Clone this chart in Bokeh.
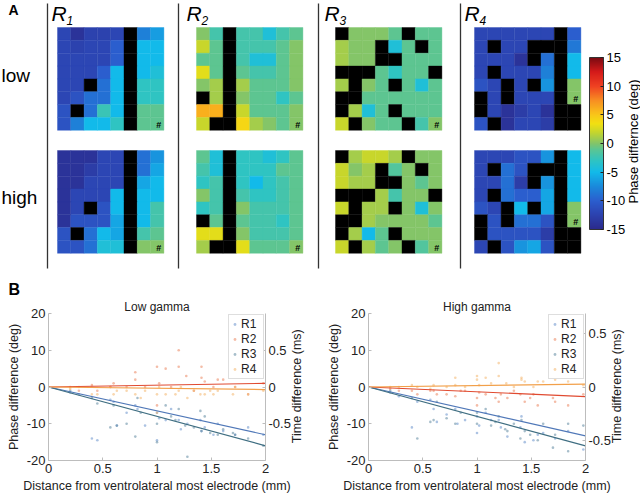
import numpy as np
from bokeh.plotting import figure
from bokeh.models import (ColumnDataSource, LinearColorMapper, ColorBar, FixedTicker,
                          Range1d, LinearAxis, Legend, LegendItem)
from bokeh.layouts import column, row
from bokeh.embed import file_html
from bokeh.resources import INLINE
from bokeh.core.properties import value

B = None  # black (excluded) electrode

# ---------------- Panel A data: phase difference (deg), 8x8 grids ----------------
r1_low = [
    [-12, -14, -12.5, -12.5, -12, B, -8, -6.5],
    [-12, -12.5, -12, -12, -10, B, -5, -5],
    [-12, -12, -12, -12, -10, B, -5, -5],
    [-12, -12, -12, -10, -5, B, -5, -4],
    [-12, -12, B, -9, -5, B, -3, -3],
    [-12, -11, -9, -9, -5, B, -3, -3],
    [-11, B, -9, -2.5, -5, B, -1, -1],
    [-11, -8, -5, -5, -3, B, -1, -1],
]
r1_high = [
    [-14, -14, -14, -12, -12, B, -9, -7],
    [-14, -14, -13, -12, -12, B, -9, -6],
    [-14, -14, -12, -12, -12, B, -6, -5],
    [-14, -12, -12, -12, -5, B, -5, -5],
    [-14, -12, B, -11, -5, B, -5, -2],
    [-14, -11, -11, -11, -6, B, -5, -2],
    [-11, B, -9, -5, -6, B, -2, -1],
    [-11, -11, -9, -4, -4, B, 0, 0],
]
r2_low = [
    [0, -2, B, -2, -2, -4, -2, -1],
    [2, -1, B, -2, -2, -2, -1, 0],
    [-1, -1, B, -2, -4, -4, -1, 0],
    [3, -1, B, -1, -2, -2, -1, 0],
    [0, 1, B, 1, -1, -1, -1, 0],
    [B, 1, B, 0, -1, -1, -3, -1],
    [6, 6, B, 2, -1, -1, -1, 0],
    [2, B, B, 4, 1, 0, -1, 0],
]
r2_high = [
    [-1, -4, B, -3, -3, -4, -3, -1],
    [-2, -4, B, -3, -3, -3, -1, -1],
    [-3, -2, B, -3, -5, -3, -2, -1],
    [0, -2, B, -2, -3, -3, -2, -1],
    [-3, -2, B, 0, -2, -2, -2, -1],
    [B, -1, B, -1, -2, -2, -3, -1],
    [3, 3, B, 0, -2, -2, -2, -1],
    [1, B, B, 3, -1, -1, -1, 0],
]
r3_low = [
    [B, 0, 0, 0, -1, B, -1, -1],
    [1, 0, 0, B, -4, -1, B, -1],
    [1, 0, 0, B, B, -1, -1, -1],
    [B, B, B, -1, -3, -1, -1, B],
    [1, B, 0, -1, B, -1, -4, -1],
    [B, B, -1, -1, -1, -1, -1, -1],
    [B, 1, -4, -1, B, -1, -1, -1],
    [2, B, 0, -1, -1, B, -2, 0],
]
r3_high = [
    [B, 1, 2, 2, 1, B, 0, 0],
    [2, 0, 1, B, -1.5, 0, B, 0],
    [2, 1, 1, B, B, 0, -1, 0],
    [B, B, B, 1, -2, 0, 0, B],
    [2, B, 1, 1, B, 0, -4, 0],
    [B, B, 1, 0, 0, 0, 0, -1],
    [B, 1, -5, -1, B, 0, 0, 0],
    [2, B, 1, -1, 0, B, -1.5, 0],
]
r4_low = [
    [-12, -12, -12, -12, -12, -12, B, -10],
    [-12, B, -12, -12, B, B, B, -8.5],
    [-12, -12, -12, -14, B, -9, B, -5],
    [-12, B, -12, -12, -12, -8, B, -5],
    [-11, -12, B, -12, B, -7, B, 0],
    [B, -12, B, -12, -12, -12, B, 0],
    [B, -12, -14, -13, -12, -14, B, B],
    [-11, B, -14, -12, -12, -13, B, B],
]
r4_high = [
    [-12, -12, -12, -11, -11, -7, B, -5],
    [-12, B, -9, -11, B, B, B, -5],
    [-12, -12, -9, -13, B, -7, B, -5],
    [-12, B, -9, -10, -10, -6, B, -5],
    [-11, -12, B, -5, B, -6, B, 0],
    [B, -11, B, -9, -9, -11, B, 0],
    [B, -11, -11, -11, -11, -13, B, B],
    [-12, B, -11, -7, -6, -11, B, B],
]
region_names = ["1", "2", "3", "4"]
hash_rows = [7, 7, 7, 5]          # row of the ventrolateral-most electrode (#)
cbar_ticks = [-15, -10, -5, 0, 5, 10, 15]

# ---------------- Panel B data: distance (mm) vs phase difference (deg) ----------------
low_r1_x = [0.2, 0.28, 0.4, 0.45, 0.57, 0.6, 0.63, 0.72, 0.8, 0.82, 0.89, 1.0, 1.0, 1.02, 1.08, 1.13, 1.2, 1.22, 1.28, 1.4, 1.41, 1.44, 1.52, 1.56, 1.61, 1.72, 1.84, 1.98]
low_r1_y = [-1.5, -2, -14, -14.5, -3.5, -4, -10.5, -7, -5, -6, -10.5, -7, -14.5, -8.5, -9, -6, -9, -11.5, -10, -9, -12, -11, -13, -10, -12, -13, -11, -13]
low_r2_x = [0.2, 0.28, 0.4, 0.45, 0.57, 0.6, 0.72, 0.8, 0.8, 0.89, 1.0, 1.0, 1.02, 1.08, 1.13, 1.2, 1.2, 1.27, 1.34, 1.41, 1.41, 1.44, 1.52, 1.56, 1.61, 1.72, 1.84, 1.98]
low_r2_y = [0, -1, 0.5, -1, 0, 1, 0, 4, 2, 0, 5.5, -5, 1, 5, 0, 10, 5.5, 3, -1, 5.5, 2.5, 1.5, 0, 2, 2, 0, -2, 1]
low_r3_x = [0.2, 0.4, 0.45, 0.57, 0.6, 0.63, 0.72, 0.8, 0.82, 0.85, 1.0, 1.0, 1.08, 1.13, 1.17, 1.2, 1.26, 1.28, 1.34, 1.4, 1.41, 1.44, 1.49, 1.56, 1.61, 1.7, 1.72, 1.84, 1.98]
low_r3_y = [-1, -3, -4.5, -11, -5, -10.5, -10, -13.5, -3, -7, -15, -10, -5, -8, -9, -6, -10.5, -19, -11, -6.5, -12, -8, -12.5, -13, -11.5, -12.5, -13, -14, -16]
low_r4_x = [0.2, 0.28, 0.4, 0.45, 0.57, 0.6, 0.63, 0.72, 0.8, 0.85, 0.89, 1.0, 1.0, 1.02, 1.08, 1.17, 1.2, 1.22, 1.28, 1.34, 1.4, 1.44, 1.49, 1.52, 1.56, 1.7, 1.72, 1.84, 1.98]
low_r4_y = [-0.5, 0, -2, -2, 0, -2, -1, -1, -2, -3, -1, -2, -7, 0, -2, -2, -1, 0, -3, -1, -2, -2, -1, -2, -1, -2, 0, -2, -1]
low_slopes = [-6.5, 0.5, -8.0, -0.35]   # fitted deg/mm, R1..R4

high_r1_x = [0.2, 0.28, 0.4, 0.45, 0.57, 0.6, 0.63, 0.72, 0.8, 0.82, 0.89, 1.0, 1.0, 1.02, 1.08, 1.13, 1.2, 1.22, 1.28, 1.4, 1.41, 1.44, 1.52, 1.56, 1.61, 1.72, 1.84, 1.98]
high_r1_y = [-1.5, -2.5, -11, -4, -3.5, -6, -9.5, -7.5, -6, -10, -9, -8, -12.5, -10.5, -7, -9, -9, -11, -13.5, -11, -8, -15, -14.5, -13, -12.5, -14, -12, -17]
high_r2_x = [0.2, 0.28, 0.4, 0.45, 0.57, 0.6, 0.63, 0.72, 0.8, 0.85, 0.89, 1.0, 1.0, 1.02, 1.08, 1.17, 1.2, 1.22, 1.28, 1.34, 1.4, 1.44, 1.49, 1.52, 1.56, 1.7, 1.72, 1.84, 1.98]
high_r2_y = [-0.5, -1, -1, -2, -1, -1, -2, -2, -2.5, -1, -1, -5, -3, -1.5, -2, -3, -4, -2, -3, -1, -2, -4, -3, -2, -5, -3, -4, -5, -2]
high_r3_x = [0.2, 0.4, 0.45, 0.57, 0.6, 0.63, 0.72, 0.8, 0.85, 1.0, 1.0, 1.08, 1.13, 1.17, 1.2, 1.26, 1.28, 1.34, 1.4, 1.41, 1.44, 1.49, 1.56, 1.61, 1.7, 1.72, 1.84, 1.84, 1.98]
high_r3_y = [-1, -3, -14, -9.5, -9, -4, -8.5, -10, -7, -10, -7, -6, -10.5, -9.5, -8, -11.5, -12, -10, -14, -9, -12, -13, -14.5, -10, -16.5, -13, -17.5, -10, -10.5]
high_r4_x = [0.2, 0.28, 0.4, 0.45, 0.57, 0.6, 0.72, 0.8, 0.8, 0.89, 1.0, 1.0, 1.02, 1.08, 1.13, 1.2, 1.2, 1.27, 1.34, 1.41, 1.41, 1.44, 1.52, 1.56, 1.61, 1.72, 1.84, 1.98]
high_r4_y = [0, 0, 0.5, 0, -0.5, 0.5, 0, 2.5, 0.5, 0, 3, 2, 0.5, 2.5, 1, 6.5, 3, 1, 0, 2.5, 2, 1.5, 0, 1.5, 1.5, 2, 1.5, 0.5]
high_slopes = [-6.65, -1.3, -8.0, 0.4]

x_ticks = [0, 0.5, 1, 1.5, 2]
y_ticks = [-20, -10, 0, 10, 20]
t_ticks = [-0.5, 0, 0.5]
series_labels = ["R1", "R2", "R3", "R4"]

# ---------------- styling ----------------
FONT = "Liberation Sans"
pt_colors = ["#5A88C8", "#EA7A50", "#4F7E98", "#F3B060"]
ln_colors = ["#5078B8", "#E04A30", "#3F6E82", "#F2A04A"]

anch_v = [-15, -12, -10, -7.5, -5, -3, -1, 0, 2, 3.5, 5, 7.5, 10, 12.5, 15]
anch_c = ["#2B2A8C", "#2C47B5", "#2B5FCF", "#1A8ADB", "#12BAEA", "#2FC4C2", "#5DC591",
          "#82C46A", "#C6D62C", "#F2E011", "#F9C619", "#F88F22", "#F04222", "#D51A1A", "#7A0A12"]
def _rgb(h):
    return [int(h[i:i + 2], 16) for i in (1, 3, 5)]
_ac = np.array([_rgb(c) for c in anch_c], dtype=float)
_vv = np.linspace(-15, 15, 256)
palette = ["#%02x%02x%02x" % tuple(int(round(np.interp(v, anch_v, _ac[:, k]))) for k in range(3)) for v in _vv]
mapper = LinearColorMapper(palette=palette, low=-15, high=15, nan_color="black")

# ---------------- Panel A figure (coordinates = page pixels) ----------------
HA = 297
pa = figure(width=640, height=HA, x_range=Range1d(0, 640), y_range=Range1d(HA, 0),
            output_backend="svg", toolbar_location=None, min_border=0,
            x_axis_location=None, y_axis_location=None)
pa.grid.visible = False
pa.outline_line_color = None

HX = [57, 196, 335, 474]
HY = [27, 150]
CW, CH = 13.3, 12.85
grids = [(r1_low, r1_high), (r2_low, r2_high), (r3_low, r3_high), (r4_low, r4_high)]
cx, cy, cv = [], [], []
hx, hy = [], []
for r, pair in enumerate(grids):
    for b, grid in enumerate(pair):
        arr = np.array(grid, dtype=float)
        for i in range(8):
            for j in range(8):
                cx.append(HX[r] + (j + 0.5) * CW)
                cy.append(HY[b] + (i + 0.5) * CH)
                cv.append(arr[i, j])
        hx.append(HX[r] + 7.5 * CW + 1.5)
        hy.append(HY[b] + (hash_rows[r] + 0.5) * CH + 1)
csrc = ColumnDataSource(dict(x=cx, y=cy, v=cv))
pa.rect(x="x", y="y", width=CW, height=CH, source=csrc,
        fill_color={"field": "v", "transform": mapper},
        line_color={"field": "v", "transform": mapper}, line_width=0.4)
pa.text(x=hx, y=hy, text=["#"] * len(hx), text_font=value(FONT), text_font_size="9px",
        text_font_style="bold", text_align="center", text_baseline="middle", text_color="black")

sep_x = [47, 178, 318, 460]
pa.segment(x0=sep_x, y0=[3] * 4, x1=sep_x, y1=[268] * 4, line_color="#333333", line_width=1.3)

lab_x = [51, 186, 324, 464]
pa.text(x=lab_x, y=[1] * 4, text=["R"] * 4, text_font=value(FONT), text_font_size="21px",
        text_font_style="italic", text_baseline="top", text_color="black")
pa.text(x=[v + 15 for v in lab_x], y=[15] * 4, text=region_names, text_font=value(FONT),
        text_font_size="12px", text_font_style="italic", text_baseline="top", text_color="black")
pa.text(x=[1, 1], y=[75, 197], text=["low", "high"], text_font=value(FONT), text_font_size="19px",
        text_baseline="middle", text_color="black")
pa.text(x=[8], y=[1], text=["A"], text_font=value(FONT), text_font_size="14px",
        text_font_style="bold", text_baseline="top", text_color="black")
pa.text(x=[8], y=[HA], text=["B"], text_font=value(FONT), text_font_size="16px",
        text_font_style="bold", text_baseline="bottom", text_color="black")

cb = ColorBar(color_mapper=mapper, location=(589, HA - 227 - 2), width=14, height=172, padding=0, margin=0,
              ticker=FixedTicker(ticks=cbar_ticks),
              major_label_overrides={t: str(t) for t in cbar_ticks},
              major_label_text_font=FONT, major_label_text_font_size="13px",
              major_label_text_color="black", label_standoff=3,
              major_tick_in=3, major_tick_out=0, major_tick_line_color="#222222",
              bar_line_color="#333333", background_fill_alpha=0, border_line_color=None)
pa.add_layout(cb)
pa.text(x=[633], y=[141], text=["Phase differnce (deg)"], angle=np.pi / 2,
        text_font=value(FONT), text_font_size="13px", text_align="center",
        text_baseline="middle", text_color="black")

# ---------------- Panel B figures ----------------
def make_panel(title, xs, ys, slopes, tmax):
    p = figure(width=320, height=495 - HA, x_range=Range1d(0, 2), y_range=Range1d(-20, 20),
               output_backend="svg", toolbar_location=None,
               min_border_left=48, min_border_right=55, min_border_top=15, min_border_bottom=34)
    p.grid.visible = False
    p.outline_line_color = None
    p.title.text = title
    p.title.align = "center"
    p.title.text_font = FONT
    p.title.text_font_size = "12px"
    p.title.text_font_style = "normal"
    p.title.text_color = "#222222"
    p.title.standoff = 0
    p.title.offset = 0
    renderers = []
    for k in range(4):
        renderers.append(p.scatter(xs[k], ys[k], size=2.6, color=pt_colors[k], alpha=0.5,
                                   line_color=None))
    for k in range(4):
        p.line([0, 2], [0, slopes[k] * 2], line_color=ln_colors[k], line_width=1.2)
    p.extra_y_ranges = {"t": Range1d(-tmax, tmax)}
    ax_r = LinearAxis(y_range_name="t", ticker=FixedTicker(ticks=t_ticks),
                      major_label_overrides={t: ("%g" % t) for t in t_ticks},
                      axis_label="\u00a0\u00a0\u00a0\u00a0\u00a0Time difference (ms)")
    try:
        ax_r.axis_label_orientation = np.pi / 2
        ax_r.axis_label_align = "start"
    except Exception:
        ax_r.axis_label = "Time difference (ms)"
    p.add_layout(ax_r, "right")
    p.xaxis.ticker = FixedTicker(ticks=x_ticks)
    p.xaxis.major_label_overrides = {t: ("%g" % t) for t in x_ticks}
    p.yaxis[0].ticker = FixedTicker(ticks=y_ticks)
    p.yaxis[0].major_label_overrides = {t: str(t) for t in y_ticks}
    p.xaxis.axis_label = "Distance from ventrolateral most electrode (mm)"
    p.yaxis[0].axis_label = "Phase difference (deg)"
    for ax in p.xaxis + p.yaxis:
        ax.axis_line_color = "#BDBDBD"
        ax.major_tick_line_color = "#BDBDBD"
        ax.major_tick_in = 3
        ax.major_tick_out = 0
        ax.minor_tick_line_color = None
        ax.major_label_text_font = FONT
        ax.major_label_text_font_size = "13px"
        ax.major_label_text_color = "#222222"
        ax.axis_label_text_font = FONT
        ax.axis_label_text_font_size = "12.5px"
        ax.axis_label_text_font_style = "normal"
        ax.axis_label_text_color = "#222222"
        ax.major_label_standoff = 3
        ax.axis_label_standoff = 3
    leg = Legend(items=[LegendItem(label=series_labels[k], renderers=[renderers[k]]) for k in range(4)],
                 location="top_right", label_text_font=FONT, label_text_font_size="12px",
                 label_text_color="#222222", glyph_width=7, glyph_height=12, label_height=12,
                 label_standoff=3, spacing=1, padding=2, margin=1,
                 border_line_color="#BDBDBD", background_fill_color="white", background_fill_alpha=1)
    p.add_layout(leg)
    return p

pb1 = make_panel("Low gamma", [low_r1_x, low_r2_x, low_r3_x, low_r4_x],
                 [low_r1_y, low_r2_y, low_r3_y, low_r4_y], low_slopes, 1.0)
pb2 = make_panel("High gamma", [high_r1_x, high_r2_x, high_r3_x, high_r4_x],
                 [high_r1_y, high_r2_y, high_r3_y, high_r4_y], high_slopes, 0.69)

layout = column(pa, row(pb1, pb2))
open("out.html", "w").write(file_html(layout, INLINE))
